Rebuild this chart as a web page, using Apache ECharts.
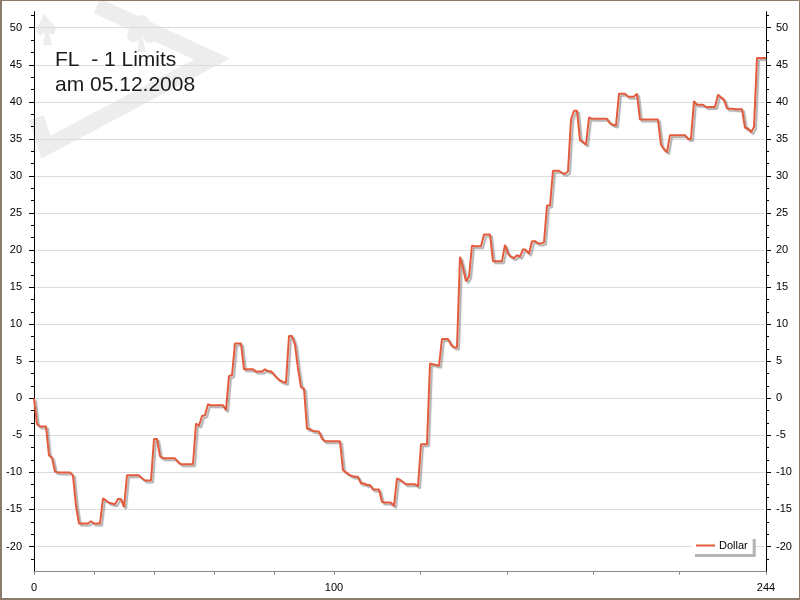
<!DOCTYPE html>
<html>
<head>
<meta charset="utf-8">
<script src="https://cdn.jsdelivr.net/npm/echarts@6/dist/echarts.min.js"></script>
<style>
  html, body { margin: 0; padding: 0; background: #ffffff; }
  #chart { width: 800px; height: 600px; }
</style>
</head>
<body>
<div id="chart"></div>
<script>
// ---- data ----
const seriesName = 'Dollar';
const titleLines = ['FL  - 1 Limits', 'am 05.12.2008'];
const dollar = [
  0, -3.5, -3.8, -3.8, -3.8, -7.7, -8.0, -9.9, -10.0, -10.0,
  -10.0, -10.0, -10.0, -10.4, -14.5, -16.9, -16.9, -16.9, -16.9, -16.6,
  -16.9, -16.9, -16.9, -13.5, -13.8, -14.1, -14.2, -14.3, -13.6, -13.6,
  -14.7, -10.4, -10.4, -10.4, -10.4, -10.4, -10.8, -11.1, -11.1, -11.1,
  -5.5, -5.5, -7.8, -8.1, -8.1, -8.1, -8.1, -8.1, -8.6, -8.9,
  -8.9, -8.9, -8.9, -8.9, -3.4, -3.7, -2.4, -2.3, -0.8, -0.95,
  -0.95, -0.95, -0.95, -0.95, -1.6, 3.0, 3.1, 7.4, 7.4, 7.4,
  3.9, 3.9, 3.9, 3.9, 3.6, 3.6, 3.6, 3.9, 3.65, 3.65,
  3.2, 2.75, 2.4, 2.2, 2.1, 8.4, 8.4, 7.2, 4.0, 1.5,
  1.3, -4.1, -4.15, -4.4, -4.45, -4.5, -5.45, -5.8, -5.8, -5.8,
  -5.8, -5.8, -5.8, -9.7, -10.0, -10.3, -10.5, -10.6, -10.6, -11.5,
  -11.5, -11.7, -11.7, -12.3, -12.3, -12.3, -14.0, -14.05, -14.05, -14.1,
  -14.55, -10.8, -11.0, -11.3, -11.6, -11.6, -11.6, -11.6, -11.9, -6.2,
  -6.2, -6.2, 4.7, 4.6, 4.5, 4.4, 8.0, 8.0, 8.0, 7.2,
  6.9, 6.85, 19.1, 17.6, 15.8, 16.4, 20.6, 20.5, 20.5, 20.5,
  22.1, 22.1, 22.1, 18.5, 18.5, 18.5, 18.5, 20.7, 19.5, 19.1,
  18.9, 19.3, 19.1, 20.1, 20.0, 19.5, 21.2, 21.2, 20.9, 20.9,
  21.0, 26.0, 26.0, 30.7, 30.7, 30.7, 30.4, 30.3, 30.6, 37.6,
  38.8, 38.8, 34.8, 34.6, 34.2, 37.9, 37.7, 37.7, 37.7, 37.7,
  37.7, 37.7, 37.1, 36.9, 36.8, 41.1, 41.1, 41.1, 40.7, 40.7,
  40.7, 41.1, 37.6, 37.6, 37.6, 37.6, 37.6, 37.6, 37.6, 34.2,
  33.6, 33.2, 35.5, 35.5, 35.5, 35.5, 35.5, 35.5, 35.0, 35.0,
  40.1, 39.6, 39.6, 39.6, 39.3, 39.3, 39.3, 39.3, 40.95, 40.6,
  40.3, 39.1, 39.05, 39.05, 39.0, 39.0, 39.0, 36.5, 36.4, 35.9,
  36.6, 45.9, 45.9, 45.9, 45.9
];
const xTickValues = [0, 20, 40, 60, 80, 100, 128.8, 157.6, 186.4, 215.2, 244];
const xLabelValues = [0, 100, 244];
const yLabelValues = [-20, -15, -10, -5, 0, 5, 10, 15, 20, 25, 30, 35, 40, 45, 50];
const yMinorValues = [];
yLabelValues.forEach(function (v) { yMinorValues.push(v - 5 / 3, v + 5 / 3); });
yMinorValues.push(51.67);

const X_MIN = 0, X_MAX = 244, Y_MIN = -23.4, Y_MAX = 52.16;

// ---- chart ----
const chart = echarts.init(document.getElementById('chart'), null, { renderer: 'canvas' });
const font = '"Liberation Sans", Arial, sans-serif';
const lineColor = '#e35a3c';
const wm = '#ededed';

function yAxisCfg(pos, ticks, len, labels, showLine, split, margin) {
  return {
    type: 'value', position: pos, min: Y_MIN, max: Y_MAX,
    axisLine: { show: showLine, onZero: false, lineStyle: { color: '#000', width: 1 } },
    axisTick: { show: true, length: len, customValues: ticks, lineStyle: { color: '#000', width: 1 } },
    axisLabel: labels ? { show: true, customValues: labels, color: '#000', fontSize: 11, fontFamily: font, margin: margin } : { show: false },
    splitLine: split ? { show: true, lineStyle: { color: '#dcdcdc', width: 1 } } : { show: false },
    minorTick: { show: false }
  };
}

const option = {
  animation: false,
  backgroundColor: '#ffffff',
  title: {
    text: titleLines.join('\n'),
    left: 55, top: 47, padding: 0,
    textStyle: { fontSize: 21, fontWeight: 'normal', color: '#1a1a1a', fontFamily: font, lineHeight: 25.5 }
  },
  legend: {
    data: [seriesName],
    left: 692, top: 536,
    padding: [4, 5, 3, 4],
    icon: 'rect', itemWidth: 19, itemHeight: 2,
    backgroundColor: '#ffffff',
    shadowColor: '#b4b4b4', shadowBlur: 0, shadowOffsetX: 3, shadowOffsetY: 3,
    textStyle: { fontSize: 11, color: '#000', fontFamily: font, padding: [0, 0, 0, -1] }
  },
  grid: { left: 34, right: 34, top: 11.7, bottom: 28.3, containLabel: false },
  xAxis: {
    type: 'value', min: X_MIN, max: X_MAX,
    axisLine: { show: true, onZero: false, lineStyle: { color: '#8a8a8a', width: 1 } },
    axisTick: { show: true, length: 3, customValues: xTickValues, lineStyle: { color: '#8a8a8a' } },
    axisLabel: { show: true, customValues: xLabelValues, color: '#000', fontSize: 11, fontFamily: font, margin: 11 },
    splitLine: { show: false }
  },
  yAxis: [
    yAxisCfg('left', yLabelValues, 5, yLabelValues, true, true, 12),
    yAxisCfg('right', yLabelValues, 5, yLabelValues, true, false, 10),
    yAxisCfg('left', yMinorValues, 3, null, false, false, 0),
    yAxisCfg('right', yMinorValues, 3, null, false, false, 0)
  ],
  graphic: [
    { type: 'polyline', z: -10, silent: true,
      shape: { points: [[97, 6], [212, 59], [46, 147], [36, 118]] },
      style: { stroke: wm, lineWidth: 16, fill: null, lineJoin: 'miter' } },
    { type: 'circle', z: -10, silent: true, shape: { cx: 142, cy: 22, r: 7 }, style: { fill: wm } },
    { type: 'circle', z: -10, silent: true, shape: { cx: 134, cy: 35, r: 7 }, style: { fill: wm } },
    { type: 'circle', z: -10, silent: true, shape: { cx: 150, cy: 36, r: 7 }, style: { fill: wm } },
    { type: 'polygon', z: -10, silent: true, shape: { points: [[141, 32], [137, 52], [146, 52]] }, style: { fill: wm } },
    { type: 'polygon', z: -10, silent: true, shape: { points: [[44, 14], [36, 30], [40, 36], [45, 33], [43, 45], [52, 45], [49, 33], [54, 35], [56, 28]] }, style: { fill: wm } },
    { type: 'rect', z: 100, silent: true, shape: { x: 0.5, y: 0.5, width: 799, height: 599 },
      style: { fill: null, stroke: '#8b7b6b', lineWidth: 1 } },
    { type: 'rect', z: 100, silent: true, shape: { x: 0, y: 598, width: 800, height: 2 }, style: { fill: '#8b7b6b' } },
    { type: 'rect', z: 100, silent: true, shape: { x: 0, y: 0, width: 2, height: 600 }, style: { fill: '#8b7b6b' } }
  ],
  series: [{
    name: seriesName,
    type: 'line',
    xAxisIndex: 0, yAxisIndex: 0,
    data: dollar.map(function (v, i) { return [i, v]; }),
    showSymbol: false, symbol: 'none',
    color: lineColor,
    lineStyle: { color: lineColor, width: 2, shadowColor: 'rgba(110,110,110,0.55)', shadowBlur: 1, shadowOffsetX: 2, shadowOffsetY: 2 },
    clip: false
  }]
};
chart.setOption(option);
</script>
</body>
</html>
